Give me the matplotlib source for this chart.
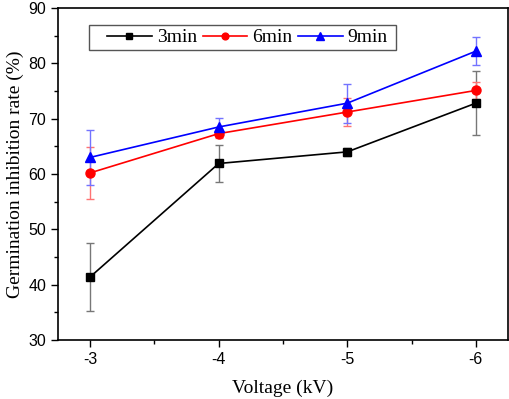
import matplotlib
matplotlib.use("Agg")
import matplotlib.pyplot as plt
from matplotlib.ticker import MultipleLocator
from matplotlib.patches import Rectangle

voltage = [-3, -4, -5, -6]
tick_labels = ["-3", "-4", "-5", "-6"]
series_names = ["3min", "6min", "9min"]
y_3min = [41.4, 61.9, 64.0, 72.8]
e_3min = [6.2, 3.3, 0.7, 5.8]
y_6min = [60.2, 67.3, 71.2, 75.1]
e_6min = [4.7, 0.8, 2.5, 1.6]
y_9min = [63.0, 68.5, 72.8, 82.2]
e_9min = [5.0, 1.6, 3.5, 2.5]

fig = plt.figure(figsize=(5.1, 3.99), dpi=100)
ax = fig.add_axes([58/510, 1-340/399, 450/510, 332/399])

styles = [("black", "s", 5.5, "#777777", y_3min, e_3min),
          ("red", "o", 6.5, "#ff7373", y_6min, e_6min),
          ("blue", "^", 7, "#7373ff", y_9min, e_9min)]
handles = []
for name, (c, m, ms, ec, y, e) in zip(series_names, styles):
    ax.errorbar(voltage, y, yerr=e, fmt="none", ecolor=ec, elinewidth=1, capsize=2.7, capthick=1, zorder=2)
    h, = ax.plot(voltage, y, color=c, marker=m, markersize=ms, lw=1.2, zorder=3, label=name)
    handles.append(h)

ax.set_xlim(-2.75, -6.25)
ax.set_ylim(30, 90)
ax.set_xticks(voltage)
ax.set_xticklabels(tick_labels)
ax.xaxis.set_minor_locator(MultipleLocator(0.5))
ax.yaxis.set_major_locator(MultipleLocator(10))
ax.yaxis.set_minor_locator(MultipleLocator(5))
ax.tick_params(which="both", direction="out", top=False, right=False)
ax.tick_params(which="major", length=5, width=1, labelsize=11.5)
ax.tick_params(which="minor", length=3, width=1)
for lab in ax.get_xticklabels() + ax.get_yticklabels():
    lab.set_family("Liberation Sans")
for s in ax.spines.values():
    s.set_linewidth(1.2)

ax.set_xlabel("Voltage (kV)", family="Liberation Serif", fontsize=14, labelpad=9)
ax.set_ylabel("Germination inhibition rate (%)", family="Liberation Serif", fontsize=14, labelpad=3)

# legend frame drawn manually
ax.add_patch(Rectangle((0.0689, 0.8735), 0.682, 0.0753, transform=ax.transAxes,
                       facecolor="white", edgecolor="#555555", lw=1, zorder=4))
leg = ax.legend(handles=handles, ncol=3, loc="center left", bbox_to_anchor=(0.1089, 0.911),
                prop={"family": "Liberation Serif", "size": 14}, frameon=False,
                handlelength=2.3, handletextpad=0.25, columnspacing=0.3,
                borderpad=0, borderaxespad=0, markerscale=0.75)
leg.set_zorder(5)

fig.savefig("out.png", dpi=100)
